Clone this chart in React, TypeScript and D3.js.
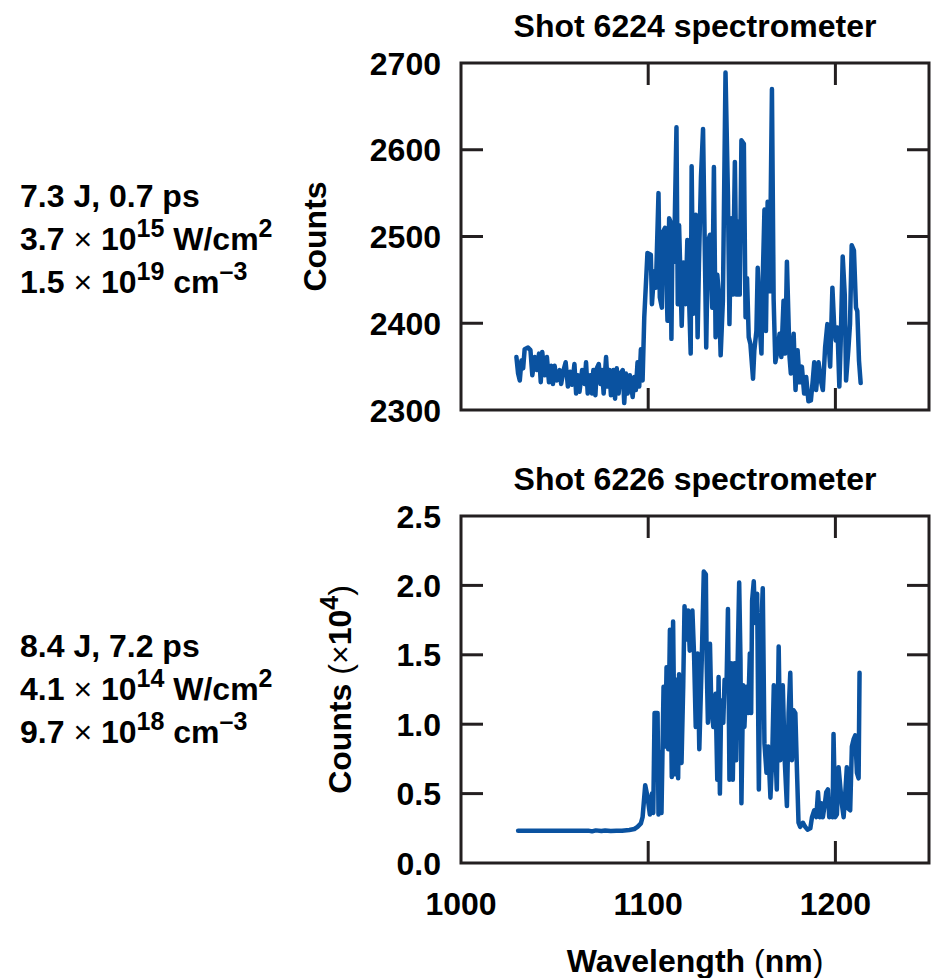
import { useEffect, useRef } from 'react';
import * as d3 from 'd3';

// Shot 6224: [wavelength (nm), counts]
const shot6224: [number, number][] = [
  [1029.6, 2361], [1030.5, 2342], [1031.4, 2334], [1032.3, 2357], [1033.2, 2348], [1034.0, 2370], [1035.8, 2372], [1037.1, 2369],
  [1038.1, 2340], [1039.4, 2361], [1040.6, 2346], [1041.7, 2365], [1042.6, 2332], [1043.4, 2367], [1044.7, 2340], [1045.9, 2361],
  [1047.0, 2332], [1048.2, 2351], [1049.1, 2330], [1050.0, 2351], [1051.2, 2334], [1052.7, 2346], [1053.5, 2330], [1054.8, 2346],
  [1055.9, 2355], [1057.1, 2327], [1058.3, 2344], [1059.4, 2329], [1060.6, 2353], [1061.5, 2319], [1062.4, 2340], [1063.3, 2321],
  [1064.7, 2346], [1066.0, 2330], [1066.8, 2355], [1067.7, 2319], [1069.0, 2340], [1070.0, 2319], [1070.7, 2346], [1071.8, 2317],
  [1072.5, 2348], [1073.6, 2353], [1074.5, 2330], [1075.4, 2346], [1076.2, 2319], [1077.5, 2361], [1078.4, 2327], [1079.3, 2346],
  [1080.1, 2317], [1081.4, 2346], [1082.3, 2313], [1083.2, 2348], [1084.2, 2319], [1085.1, 2342], [1086.4, 2346], [1087.2, 2308],
  [1088.1, 2342], [1089.0, 2319], [1090.2, 2340], [1091.7, 2315], [1092.6, 2338], [1093.4, 2323], [1094.3, 2355], [1095.2, 2327],
  [1096.1, 2370], [1097.0, 2334], [1097.9, 2407], [1099.6, 2481], [1101.4, 2479], [1102.0, 2422], [1103.2, 2460], [1104.1, 2441],
  [1105.5, 2550], [1106.2, 2430], [1107.3, 2418], [1107.6, 2504], [1109.0, 2510], [1110.3, 2403], [1111.2, 2521], [1111.9, 2517],
  [1112.4, 2382], [1112.9, 2487], [1113.8, 2471], [1115.1, 2626], [1115.8, 2422], [1116.5, 2513], [1117.9, 2397], [1118.8, 2470],
  [1120.0, 2422], [1120.9, 2496], [1122.7, 2365], [1123.2, 2581], [1124.1, 2411], [1125.4, 2525], [1126.4, 2384], [1127.1, 2468],
  [1128.2, 2569], [1129.3, 2624], [1131.0, 2372], [1131.9, 2494], [1133.0, 2502], [1134.2, 2418], [1135.1, 2580], [1136.0, 2384],
  [1136.9, 2456], [1137.8, 2433], [1138.7, 2363], [1139.9, 2426], [1141.3, 2689], [1142.6, 2548], [1143.4, 2399], [1144.3, 2521],
  [1145.2, 2433], [1146.3, 2586], [1147.2, 2433], [1148.0, 2517], [1148.9, 2433], [1149.8, 2611], [1151.1, 2607], [1152.0, 2407],
  [1152.8, 2452], [1153.7, 2384], [1154.6, 2376], [1156.0, 2336], [1156.7, 2369], [1157.8, 2391], [1158.5, 2464], [1159.6, 2395],
  [1160.5, 2365], [1161.2, 2452], [1162.1, 2531], [1162.9, 2391], [1163.8, 2540], [1164.9, 2437], [1166.1, 2670], [1167.0, 2428],
  [1167.9, 2355], [1168.8, 2365], [1170.2, 2388], [1171.1, 2361], [1172.3, 2426], [1173.2, 2365], [1174.1, 2471], [1175.5, 2361],
  [1176.2, 2342], [1177.7, 2388], [1178.7, 2323], [1179.8, 2369], [1180.9, 2332], [1182.1, 2350], [1183.3, 2319], [1184.4, 2338],
  [1185.6, 2310], [1186.9, 2311], [1187.9, 2334], [1188.7, 2355], [1189.7, 2323], [1191.0, 2355], [1192.2, 2334], [1193.3, 2323],
  [1194.5, 2372], [1195.7, 2399], [1197.2, 2350], [1198.4, 2441], [1199.3, 2399], [1200.2, 2380], [1201.1, 2395], [1202.1, 2327],
  [1202.8, 2376], [1203.9, 2477], [1205.0, 2433], [1205.7, 2334], [1206.9, 2369], [1207.8, 2399], [1208.7, 2490], [1209.9, 2484],
  [1211.0, 2418], [1211.7, 2414], [1212.6, 2357], [1213.5, 2331],
];

// Shot 6226: [wavelength (nm), counts x 1e4]
const shot6226: [number, number][] = [
  [1030.5, 0.233], [1040, 0.233], [1050, 0.233], [1060, 0.233], [1068, 0.233], [1070, 0.228], [1072, 0.235], [1075, 0.23],
  [1077, 0.234], [1080, 0.23], [1083, 0.233], [1086, 0.233], [1089.9, 0.238], [1092.6, 0.245], [1094.3, 0.26], [1096.1, 0.285],
  [1097.0, 0.33], [1098.4, 0.56], [1099.6, 0.48], [1100.9, 0.35], [1102.0, 0.50], [1102.7, 0.36], [1103.4, 1.08], [1105.0, 1.08],
  [1105.5, 0.35], [1106.2, 0.80], [1107.1, 0.36], [1108.2, 1.27], [1109.1, 0.84], [1109.8, 1.41], [1110.7, 0.82], [1111.6, 1.68],
  [1112.6, 0.62], [1113.3, 1.74], [1114.2, 0.64], [1115.1, 1.32], [1116.0, 0.61], [1116.5, 1.36], [1117.8, 0.72], [1118.7, 1.27],
  [1119.4, 1.85], [1120.4, 1.61], [1121.3, 1.82], [1122.2, 1.53], [1123.6, 1.82], [1124.5, 1.50], [1125.4, 0.98], [1126.4, 1.51],
  [1127.3, 0.82], [1128.6, 1.46], [1129.7, 2.10], [1130.8, 2.08], [1131.2, 1.46], [1131.9, 1.01], [1133.0, 1.58], [1133.7, 1.13],
  [1134.8, 0.98], [1136.0, 1.22], [1136.9, 0.60], [1137.6, 1.34], [1138.3, 0.50], [1139.0, 1.17], [1140.1, 1.01], [1140.8, 1.32],
  [1141.8, 1.25], [1142.6, 1.83], [1143.4, 0.60], [1144.3, 1.44], [1145.2, 0.60], [1146.1, 1.44], [1147.0, 0.74], [1147.7, 1.39],
  [1148.6, 2.02], [1149.3, 1.46], [1149.8, 0.43], [1150.7, 1.28], [1151.4, 0.98], [1152.3, 1.27], [1153.4, 1.08], [1154.3, 1.51],
  [1155.0, 1.08], [1155.5, 1.89], [1156.4, 2.03], [1157.1, 1.73], [1158.2, 1.94], [1159.1, 0.53], [1160.0, 1.56], [1161.2, 1.98],
  [1162.1, 0.86], [1163.2, 0.65], [1164.1, 0.84], [1165.3, 0.47], [1166.2, 0.74], [1167.1, 1.28], [1168.0, 0.79], [1168.7, 0.53],
  [1169.7, 1.56], [1170.6, 0.74], [1171.9, 1.28], [1173.0, 0.72], [1174.1, 0.41], [1175.0, 1.08], [1175.9, 1.37], [1176.8, 0.74],
  [1177.7, 1.10], [1178.6, 1.08], [1179.5, 0.65], [1180.3, 0.29], [1181.2, 0.26], [1182.6, 0.29], [1183.9, 0.26], [1185.1, 0.24],
  [1186.6, 0.25], [1187.5, 0.33], [1188.7, 0.38], [1189.8, 0.33], [1190.7, 0.51], [1191.6, 0.33], [1192.4, 0.43], [1193.3, 0.33],
  [1194.4, 0.43], [1195.1, 0.51], [1196.0, 0.53], [1196.7, 0.33], [1197.6, 0.43], [1198.5, 0.33], [1199.0, 0.93], [1199.9, 0.33],
  [1200.8, 0.35], [1201.7, 0.69], [1202.6, 0.55], [1203.5, 0.42], [1204.4, 0.33], [1205.4, 0.53], [1206.1, 0.69], [1207.0, 0.39],
  [1207.9, 0.38], [1208.8, 0.84], [1209.7, 0.89], [1210.6, 0.92], [1211.5, 0.65], [1212.4, 0.61], [1212.9, 1.37],
];

const topTicks = [2300, 2400, 2500, 2600, 2700];
const bottomTicks = [0, 0.5, 1.0, 1.5, 2.0, 2.5];
const wavelengthTicks = [1000, 1100, 1200];

// one entry per text segment: [text, superscript?, light weight?]
type Part = [string, boolean?, boolean?];
const topNotes: Part[][] = [
  [['7.3 J, 0.7 ps']],
  [['3.7 '], ['\u00d7', false, true], [' 10'], ['15', true], [' W/cm'], ['2', true]],
  [['1.5 '], ['\u00d7', false, true], [' 10'], ['19', true], [' cm'], ['\u20133', true]],
];
const bottomNotes: Part[][] = [
  [['8.4 J, 7.2 ps']],
  [['4.1 '], ['\u00d7', false, true], [' 10'], ['14', true], [' W/cm'], ['2', true]],
  [['9.7 '], ['\u00d7', false, true], [' 10'], ['18', true], [' cm'], ['\u20133', true]],
];

const FONT = "'Liberation Sans', Arial, Helvetica, sans-serif";
const FS = 32, SUP = 25, RAISE = 13;
const INK = '#231f20';
const LINE = '#0a52a0';

function richText(g, x, y, parts: Part[], anchor = 'start', transform = null) {
  const t = g.append('text')
    .attr('x', x).attr('y', y)
    .attr('text-anchor', anchor)
    .style('font-family', FONT).style('font-weight', 'bold')
    .style('font-size', FS + 'px').attr('fill', '#000');
  if (transform) t.attr('transform', transform);
  let lift = 0;
  parts.forEach(([txt, sup, light]) => {
    const dy = sup ? -RAISE - lift : -lift;
    lift = sup ? -RAISE : 0;
    t.append('tspan')
      .attr('dy', dy)
      .style('font-size', (sup ? SUP : FS) + 'px')
      .style('font-weight', light ? 'normal' : 'bold')
      .text(txt);
  });
  return t;
}

const renderChart = (svgEl) => {
  const svg = d3.select(svgEl);
  svg.selectAll('*').remove();

  const left = 461, right = 929;
  const x = d3.scaleLinear().domain([1000, 1250]).range([left, right]);
  const TICK = 22;

  const panels = [
    { top: 63, bottom: 410, domain: [2300, 2700], ticks: topTicks, fmt: d3.format('d'), data: shot6224, title: 'Shot 6224 spectrometer', notes: topNotes, noteY: 207 },
    { top: 516, bottom: 863, domain: [0, 2.5], ticks: bottomTicks, fmt: d3.format('.1f'), data: shot6226, title: 'Shot 6226 spectrometer', notes: bottomNotes, noteY: 657 },
  ];

  panels.forEach((p, i) => {
    const y = d3.scaleLinear().domain(p.domain).range([p.bottom, p.top]);
    const g = svg.append('g');

    // data
    const line = d3.line<[number, number]>().x(d => x(d[0])).y(d => y(d[1]));
    g.append('path')
      .attr('d', line(p.data))
      .attr('fill', 'none')
      .attr('stroke', LINE)
      .attr('stroke-width', 4.5)
      .attr('stroke-linejoin', 'round')
      .attr('stroke-linecap', 'round');

    // frame
    g.append('rect')
      .attr('x', left).attr('y', p.top)
      .attr('width', right - left).attr('height', p.bottom - p.top)
      .attr('fill', 'none').attr('stroke', INK).attr('stroke-width', 3);

    // inner y ticks (both sides)
    const inner = p.ticks.slice(1, -1);
    inner.forEach(v => {
      g.append('line').attr('x1', left).attr('x2', left + TICK).attr('y1', y(v)).attr('y2', y(v))
        .attr('stroke', INK).attr('stroke-width', 3);
      g.append('line').attr('x1', right).attr('x2', right - TICK).attr('y1', y(v)).attr('y2', y(v))
        .attr('stroke', INK).attr('stroke-width', 3);
    });
    // inner x ticks (top and bottom)
    wavelengthTicks.slice(1).forEach(v => {
      g.append('line').attr('x1', x(v)).attr('x2', x(v)).attr('y1', p.bottom).attr('y2', p.bottom - TICK)
        .attr('stroke', INK).attr('stroke-width', 3);
      g.append('line').attr('x1', x(v)).attr('x2', x(v)).attr('y1', p.top).attr('y2', p.top + TICK)
        .attr('stroke', INK).attr('stroke-width', 3);
    });

    // y tick labels
    g.selectAll('text.ytick')
      .data(p.ticks)
      .enter().append('text')
      .attr('class', 'ytick')
      .attr('x', 441)
      .attr('y', v => y(v) + 11.5)
      .attr('text-anchor', 'end')
      .style('font-family', FONT).style('font-weight', 'bold').style('font-size', FS + 'px')
      .text(v => p.fmt(v));

    // title
    g.append('text')
      .attr('x', (left + right) / 2).attr('y', p.top - 26)
      .attr('text-anchor', 'middle')
      .style('font-family', FONT).style('font-weight', 'bold').style('font-size', FS + 'px')
      .text(p.title);

    // condition notes on the left
    p.notes.forEach((parts, k) => richText(g, 20, p.noteY + k * 43, parts));

    // y label
    if (i === 0) {
      richText(g, 0, 0, [['Counts']], 'middle', `translate(326, ${(p.top + p.bottom) / 2}) rotate(-90)`);
    } else {
      richText(g, 0, 0, [['Counts '], ['(\u00d7', false, true], ['10'], ['4', true], [')', false, true]], 'middle',
        `translate(351, ${(p.top + p.bottom) / 2}) rotate(-90)`);
    }

    if (i === 1) {
      g.selectAll('text.xtick')
        .data(wavelengthTicks)
        .enter().append('text')
        .attr('class', 'xtick')
        .attr('x', v => x(v))
        .attr('y', 915)
        .attr('text-anchor', 'middle')
        .style('font-family', FONT).style('font-weight', 'bold').style('font-size', FS + 'px')
        .text(v => v);
      richText(g, (left + right) / 2, 972, [['Wavelength '], ['(', false, true], ['nm'], [')', false, true]], 'middle');
    }
  });
};

const App = () => {
  const ref = useRef<SVGSVGElement>(null);
  useEffect(() => {
    renderChart(ref.current);
  }, []);
  return (
    <svg ref={ref} width={937} height={978}
      style={{ position: 'absolute', left: 0, top: 0, background: '#fff' }} />
  );
};

export default App;
